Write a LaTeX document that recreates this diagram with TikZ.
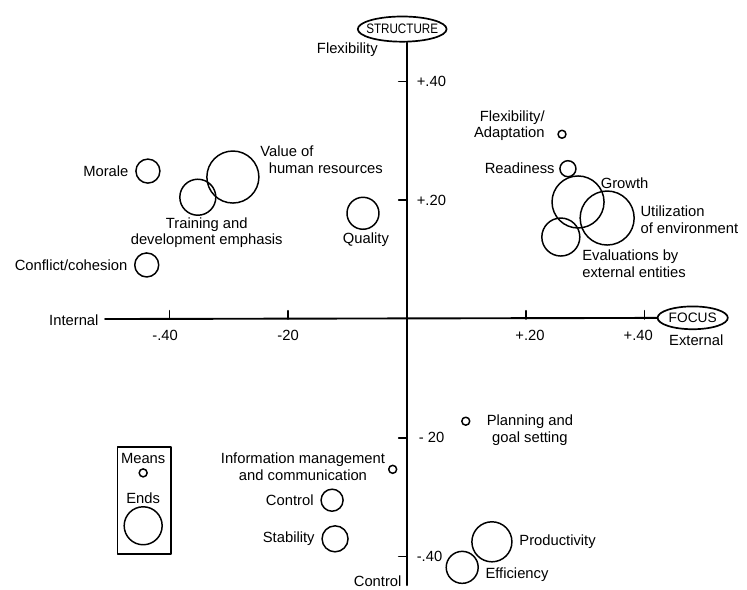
\documentclass[tikz,border=0pt]{standalone}
\usepackage{fontspec}
\setmainfont{Liberation Sans}
\usetikzlibrary{shapes.geometric,positioning}
\begin{document}
\begin{tikzpicture}[line join=round,line cap=round,x=9.9cm,y=9.9cm,
	font=\fontsize{7}{7.8}\selectfont,
	blob/.style={circle,draw,inner sep=0pt,line width=0.7pt},
	lbl/.style={inner sep=1pt},
	axisname/.style={ellipse,draw,inner sep=0pt,line width=0.8pt}]
	\useasboundingbox (-0.685,-0.456) rectangle (0.5724,0.537);
	\def\t{0.014} \def\lw{0.9pt}
	\path
	(0,-0.448) coordinate (V)
	(-0.508,0) coordinate (H)
	(-0.487,-0.215) coordinate (L1)
	(-0.397,-0.396) coordinate (L2)
	;
	% axes
	\node[axisname,minimum width=1.48cm,minimum height=0.42cm] (structure) at (-0.008,0.488)
		{\fontsize{6.5}{7}\selectfont\makebox[0.9cm][c]{\scalebox{0.85}[1]{STRUCTURE}}};
	\node[axisname,minimum width=1.17cm,minimum height=0.38cm] (focus) at (0.481,0.002)
		{\fontsize{6.5}{7}\selectfont\makebox[0.7cm][c]{FOCUS}};
	\draw[line width=\lw] (V) -- (V |- structure.south);
	\draw[line width=\lw] (H) -- (focus);
	\node[lbl,anchor=east] (flextop) at (-0.045,0.453) {Flexibility};
	\node[lbl,anchor=east] (ctrlbot) at (-0.005,-0.441) {Control};
	\node[lbl,anchor=east] (internal) at (-0.515,-0.002) {Internal};
	\node[lbl] (external) at (0.487,-0.035) {External};
	\draw[line width=0.7pt] (-0.4,0) -- ++(0,\t) node[pos=0,below=1.5pt,xshift=-2pt] (xa) {-.40};
	\draw[line width=0.7pt] (-0.2,0) -- ++(0,\t) node[pos=0,below=1.5pt] (xb) {-20};
	\draw[line width=0.7pt] (0.2,0) -- ++(0,\t) node[pos=0,below=1.5pt,xshift=2pt] (xc) {+.20};
	\draw[line width=0.7pt] (0.4,0) -- ++(0,\t) node[pos=0,below=1.5pt,xshift=-3pt] (xd) {+.40};
	\draw[line width=0.7pt] (0,0.4) -- ++(-\t,0) node[pos=0,right=1pt] (ya) {+.40};
	\draw[line width=0.7pt] (0,0.2) -- ++(-\t,0) node[pos=0,right=1pt] (yb) {+.20};
	\draw[line width=0.7pt] (0,-0.2) -- ++(-\t,0) node[pos=0,right=2pt] (yc) {- 20};
	\draw[line width=0.7pt] (0,-0.4) -- ++(-\t,0) node[pos=0,right=1pt] (yd) {-.40};
	% internal, flexible
	\node[blob,minimum size=0.4cm] (morale) at (-0.436,0.249) {};
	\node[lbl,left=2pt] (moraleL) at (morale.west) {Morale};
	\node[blob,minimum size=0.867cm] (valuehr) at (-0.293,0.239) {};
	\node[lbl,anchor=west,align=left] (valuehrL) at (-0.251,0.268) {Value of\\\hspace*{4pt}human resources};
	\node[blob,minimum size=0.6cm] (training) at (-0.352,0.205) {};
	\node[lbl,align=center] (trainingL) at (-0.337,0.145) {Training and\\development emphasis};
	\node[blob,minimum size=0.533cm] (quality) at (-0.074,0.178) {};
	\node[lbl] (qualityL) at (-0.069,0.133) {Quality};
	\node[blob,minimum size=0.4cm] (conflict) at (-0.438,0.091) {};
	\node[lbl,left=2pt] (conflictL) at (conflict.west) {Conflict/cohesion};
	% external, flexible
	\node[blob,minimum size=0.133cm] (flex) at (0.261,0.311) {};
	\node[lbl,anchor=east,align=right] (flexL) at (0.236,0.325) {Flexibility/\\Adaptation};
	\node[blob,minimum size=0.267cm] (readiness) at (0.271,0.253) {};
	\node[lbl,left=1pt] (readinessL) at (readiness.west) {Readiness};
	\node[blob,minimum size=0.867cm] (growth) at (0.288,0.197) {};
	\node[lbl,anchor=west] (growthL) at (0.322,0.229) {Growth};
	\node[blob,minimum size=0.9cm] (utilization) at (0.337,0.170) {};
	\node[lbl,anchor=west,align=left] (utilizationL) at (0.389,0.167) {Utilization\\of environment};
	\node[blob,minimum size=0.633cm] (evaluation) at (0.259,0.138) {};
	\node[lbl,anchor=west,align=left] (evaluationL) at (0.291,0.093) {Evaluations by\\external entities};
	% external, control
	\node[blob,minimum size=0.133cm] (planning) at (0.099,-0.172) {};
	\node[lbl,align=center] (planningL) at (0.207,-0.187) {Planning and\\goal setting};
	\node[blob,minimum size=0.667cm] (productivity) at (0.143,-0.375) {};
	\node[lbl,right=2pt] (productivityL) at (productivity.east) {Productivity};
	\node[blob,minimum size=0.533cm] (efficiency) at (0.093,-0.418) {};
	\node[lbl,anchor=west] (efficiencyL) at (0.128,-0.431) {Efficiency};
	% internal, control
	\node[blob,minimum size=0.133cm] (info) at (-0.024,-0.253) {};
	\node[lbl,align=center] (infoL) at (-0.175,-0.249) {Information management\\and communication};
	\node[blob,minimum size=0.367cm] (control) at (-0.126,-0.305) {};
	\node[lbl,left=2pt] (controlL) at (control.west) {Control};
	\node[blob,minimum size=0.433cm] (stability) at (-0.121,-0.370) {};
	\node[lbl,left=2pt] (stabilityL) at (stability.west) {Stability};
	% legend
	\draw[line width=0.8pt] (L1) rectangle (L2);
	\node[lbl] (meansL) at (-0.444,-0.234) {Means};
	\node[blob,minimum size=0.133cm] (means) at (-0.444,-0.259) {};
	\node[lbl] (endsL) at (-0.444,-0.301) {Ends};
	\node[blob,minimum size=0.633cm] (ends) at (-0.444,-0.348) {};
\end{tikzpicture}
\end{document}
